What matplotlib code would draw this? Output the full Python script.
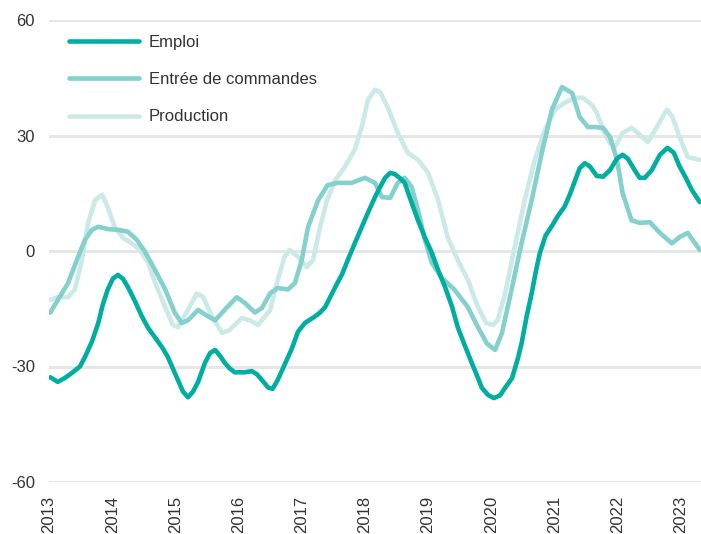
import matplotlib
matplotlib.use('Agg')
import matplotlib.pyplot as plt

plt.rcParams['font.family'] = ['Liberation Sans', 'DejaVu Sans']

# Data (decimal years, balance in %)
emploi_t = [2013.02, 2013.14, 2013.25, 2013.36, 2013.49, 2013.57, 2013.68, 2013.78, 2013.85, 2013.93,
            2014.01, 2014.09, 2014.17, 2014.25, 2014.36, 2014.47, 2014.57, 2014.68, 2014.79, 2014.88,
            2014.96, 2015.04, 2015.12, 2015.20, 2015.28, 2015.36, 2015.47, 2015.55, 2015.63, 2015.71,
            2015.78, 2015.86, 2015.94, 2016.10, 2016.21, 2016.29, 2016.37, 2016.47, 2016.54, 2016.62,
            2016.73, 2016.84, 2016.94, 2017.05, 2017.21, 2017.29, 2017.37, 2017.45, 2017.53, 2017.64,
            2017.73, 2017.84, 2017.95, 2018.05, 2018.16, 2018.24, 2018.32, 2018.40, 2018.47, 2018.55,
            2018.63, 2018.73, 2018.84, 2018.95, 2019.06, 2019.16, 2019.27, 2019.38, 2019.47, 2019.58,
            2019.69, 2019.79, 2019.85, 2019.95, 2020.04, 2020.14, 2020.22, 2020.33, 2020.42, 2020.48,
            2020.56, 2020.64, 2020.71, 2020.77, 2020.86, 2020.96, 2021.05, 2021.16, 2021.24, 2021.32,
            2021.40, 2021.48, 2021.56, 2021.67, 2021.77, 2021.88, 2021.99, 2022.08, 2022.16, 2022.27,
            2022.35, 2022.43, 2022.54, 2022.67, 2022.79, 2022.89, 2022.98, 2023.08, 2023.17, 2023.30]
emploi_v = [-32.8, -34.0, -33.0, -31.7, -30.0, -27.5, -23.5, -18.7, -14.0, -10.0,
            -7.2, -6.2, -7.2, -9.4, -13.0, -17.0, -20.0, -22.5, -25.0, -27.5,
            -30.5, -33.5, -36.5, -38.0, -36.5, -34.0, -29.0, -26.5, -25.7, -27.3,
            -29.0, -30.5, -31.5, -31.5, -31.2, -32.0, -33.5, -35.5, -35.8, -33.5,
            -29.5, -25.5, -21.0, -18.7, -17.0, -16.0, -14.6, -12.0, -9.4, -6.0,
            -2.3, 2.0, 6.2, 10.0, 14.0, 16.6, 19.0, 20.3, 20.0, 19.0,
            17.7, 13.0, 8.0, 3.5, -0.5, -5.0, -9.4, -14.5, -19.8, -24.5,
            -29.0, -33.0, -35.5, -37.4, -38.2, -37.5, -35.5, -33.0, -28.0, -24.0,
            -17.0, -11.0, -5.0, -0.5, 4.0, 6.5, 9.0, 11.5, 14.5, 18.0,
            21.5, 22.8, 22.0, 19.5, 19.3, 21.0, 24.0, 25.0, 24.0, 21.0,
            19.0, 19.0, 21.0, 25.0, 26.8, 25.5, 22.0, 19.0, 16.0, 12.7]

commandes_t = [2013.02, 2013.14, 2013.30, 2013.46, 2013.57, 2013.68, 2013.78, 2013.93, 2014.09, 2014.25,
               2014.39, 2014.52, 2014.68, 2014.84, 2014.99, 2015.10, 2015.20, 2015.36, 2015.52, 2015.63,
               2015.78, 2015.97, 2016.10, 2016.26, 2016.37, 2016.50, 2016.62, 2016.78, 2016.89, 2017.00,
               2017.10, 2017.26, 2017.41, 2017.57, 2017.79, 2018.00, 2018.16, 2018.24, 2018.27, 2018.40,
               2018.52, 2018.63, 2018.74, 2018.84, 2018.95, 2019.06, 2019.22, 2019.42, 2019.63, 2019.79,
               2019.93, 2020.06, 2020.17, 2020.33, 2020.48, 2020.64, 2020.80, 2020.96, 2021.12, 2021.28,
               2021.40, 2021.53, 2021.64, 2021.77, 2021.88, 2021.99, 2022.08, 2022.22, 2022.35, 2022.51,
               2022.67, 2022.86, 2022.98, 2023.11, 2023.30]
commandes_v = [-16.0, -12.7, -8.4, -1.5, 2.9, 5.5, 6.3, 5.7, 5.5, 5.0,
               2.9, -0.2, -5.0, -10.0, -16.0, -18.7, -18.0, -15.3, -17.0, -18.0,
               -15.3, -12.0, -13.5, -16.0, -14.8, -11.0, -9.6, -10.0, -8.4, -2.4,
               6.2, 13.2, 17.1, 17.7, 17.7, 19.0, 17.7, 15.0, 14.0, 13.8,
               17.7, 19.0, 16.6, 10.7, 2.9, -3.1, -7.0, -10.1, -14.6, -19.8,
               -24.0, -25.7, -21.3, -9.4, 2.0, 13.2, 25.5, 36.7, 42.6, 41.0,
               34.8, 32.2, 32.2, 32.0, 29.6, 23.7, 15.0, 8.0, 7.3, 7.5,
               4.7, 2.0, 3.6, 4.7, 0.3]

production_t = [2013.02, 2013.14, 2013.30, 2013.41, 2013.52, 2013.62, 2013.73, 2013.84, 2013.93, 2014.04,
                2014.17, 2014.31, 2014.44, 2014.57, 2014.68, 2014.84, 2014.96, 2015.04, 2015.20, 2015.34,
                2015.44, 2015.58, 2015.74, 2015.86, 2016.05, 2016.18, 2016.31, 2016.50, 2016.62, 2016.73,
                2016.81, 2016.94, 2017.08, 2017.18, 2017.29, 2017.40, 2017.53, 2017.68, 2017.84, 2017.95,
                2018.05, 2018.16, 2018.24, 2018.36, 2018.52, 2018.68, 2018.84, 2019.00, 2019.16, 2019.31,
                2019.47, 2019.63, 2019.79, 2019.92, 2020.03, 2020.10, 2020.22, 2020.37, 2020.53, 2020.69,
                2020.85, 2021.01, 2021.16, 2021.32, 2021.45, 2021.59, 2021.67, 2021.77, 2021.88, 2021.96,
                2022.08, 2022.22, 2022.35, 2022.48, 2022.62, 2022.78, 2022.87, 2022.98, 2023.11, 2023.30]
production_v = [-12.7, -12.0, -12.0, -10.0, -2.3, 7.3, 13.2, 14.6, 11.4, 6.2,
                3.4, 2.0, 0.3, -3.1, -8.3, -14.6, -19.2, -19.8, -15.3, -11.0,
                -12.0, -17.0, -21.3, -20.5, -17.4, -18.0, -19.2, -15.3, -7.5, -1.5,
                0.3, -1.5, -4.2, -2.3, 6.2, 13.2, 18.4, 21.8, 26.3, 32.2,
                39.3, 41.9, 41.3, 37.4, 30.7, 25.5, 23.7, 20.3, 13.2, 3.6,
                -2.4, -7.5, -14.6, -18.7, -19.2, -18.0, -11.0, 1.0, 13.2, 23.7,
                31.5, 36.7, 38.5, 39.8, 39.8, 38.0, 35.9, 31.5, 28.0, 27.0,
                30.7, 32.0, 30.2, 28.3, 32.2, 36.7, 34.8, 29.6, 24.4, 23.7]

years = list(range(2013, 2024))
yticks = [-60, -30, 0, 30, 60]

fig = plt.figure(figsize=(7.01, 5.34), dpi=100)
ax = fig.add_axes([49 / 701, 52 / 534, 652 / 701, 462 / 534])

line_kw = dict(lw=3.3, solid_capstyle='round', solid_joinstyle='round')
ax.plot(production_t, production_v, color='#CBE9E6', label='Production', zorder=3, **line_kw)
ax.plot(commandes_t, commandes_v, color='#83D0CC', label='Entrée de commandes', zorder=4, **line_kw)
ax.plot(emploi_t, emploi_v, color='#00ADA1', label='Emploi', zorder=5, **line_kw)

ax.set_xlim(2013, 2023.32)
ax.set_ylim(-60, 60)
ax.set_xticks(years)
ax.set_xticklabels([str(y) for y in years], rotation=90, va='top', ha='center')
ax.set_yticks(yticks)
ax.set_yticklabels([str(v) for v in yticks])
ax.tick_params(axis='both', length=0, labelsize=12, colors='#333333')
ax.tick_params(axis='x', pad=10)
ax.tick_params(axis='y', pad=10)
for sp in ax.spines.values():
    sp.set_visible(False)
ax.yaxis.grid(True, color='#E6E6E6', lw=2.2)
ax.set_axisbelow(True)

handles, labels = ax.get_legend_handles_labels()
order = [2, 1, 0]
leg = fig.legend([handles[i] for i in order], [labels[i] for i in order],
                 loc='upper left', bbox_to_anchor=(69 / 701, 1 - 35 / 534),
                 frameon=False, fontsize=12, handlelength=4.2, handletextpad=0.6,
                 labelspacing=1.33, borderpad=0, borderaxespad=0)
for t in leg.get_texts():
    t.set_color('#333333')

fig.savefig('out.png', dpi=100)
